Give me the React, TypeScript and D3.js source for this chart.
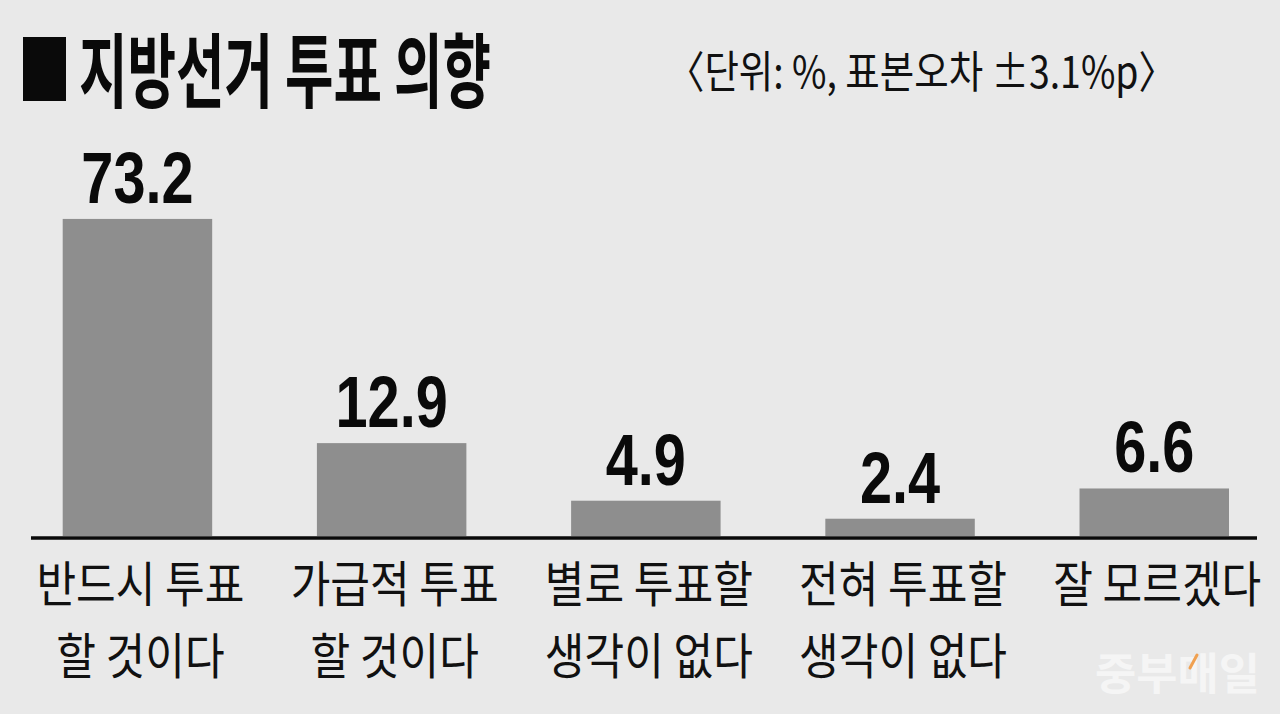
import React from "react";
import * as d3 from "d3";

const categories: string[][] = [
  ["반드시 투표", "할 것이다"],
  ["가급적 투표", "할 것이다"],
  ["별로 투표할", "생각이 없다"],
  ["전혀 투표할", "생각이 없다"],
  ["잘 모르겠다"],
];
const values: number[] = [73.2, 12.9, 4.9, 2.4, 6.6];
const valueLabels: string[] = ["73.2", "12.9", "4.9", "2.4", "6.6"];
const titleText = "지방선거 투표 의향";
const subtitleText = "〈단위: %, 표본오차 ±3.1%p〉";
const watermarkText = "중부매일";

const W = 1280;
const H = 714;
const KR = "'Noto Sans CJK KR', 'Noto Sans', sans-serif";
const NUM = "'Liberation Sans', Arial, sans-serif";

export default function App() {
  const ids = categories.map((_, i) => String(i));
  const x = d3.scaleBand<string>().domain(ids).range([62.7, 1229]).paddingInner(0.412).paddingOuter(0);
  // graphic is not drawn to scale: a two-segment (broken) linear scale
  const y = d3.scaleLinear().domain([0, 15, 80]).range([536, 428, 194.5]);
  const bw = x.bandwidth();

  return (
    <svg width={W} height={H} viewBox={`0 0 ${W} ${H}`} style={{ position: "fixed", left: 0, top: 0, display: "block" }}>
      <rect x={0} y={0} width={W} height={H} fill="#e9e9e9" />
      {/* title */}
      <rect x={23} y={37} width={43} height={64} fill="#0a0a0a" />
      <text x={79} y={101} fontFamily={KR} fontWeight={700} fontSize={81} fill="#0a0a0a" textLength={412} lengthAdjust="spacingAndGlyphs">
        {titleText}
      </text>
      <text x={667} y={88} fontFamily={KR} fontWeight={400} fontSize={44} fill="#111" textLength={509} lengthAdjust="spacingAndGlyphs">
        {subtitleText}
      </text>

      {/* bars */}
      {values.map((v, i) => (
        <rect key={"b" + i} x={x(ids[i])!} y={y(v)} width={bw} height={y(0) - y(v)} fill="#8e8e8e" />
      ))}
      {values.map((v, i) => (
        <text key={"v" + i} transform={`translate(${x(ids[i])! + bw / 2},${y(v) - 16}) scale(0.79,1)`} textAnchor="middle" fontFamily={NUM} fontWeight={700} fontSize={73} fill="#0a0a0a">
          {valueLabels[i]}
        </text>
      ))}
      <line x1={31} x2={1257} y1={538} y2={538} stroke="#0a0a0a" strokeWidth={3.5} />

      {/* category labels */}
      {categories.map((lines, i) => (
        <g key={"c" + i} transform={`translate(${x(ids[i])! + bw / 2 + 3},0)`}>
          {lines.map((ln, j) => (
            <text key={j} transform={`translate(0,${602 + j * 72}) scale(0.88,1)`} textAnchor="middle" fontFamily={KR} fontWeight={400} fontSize={49} fill="#111">
              {ln}
            </text>
          ))}
        </g>
      ))}

      {/* watermark */}
      <text x={1095} y={690} fontFamily={KR} fontWeight={700} fontSize={44} fill="#f5f5f5" textLength={165} lengthAdjust="spacingAndGlyphs">
        {watermarkText}
      </text>
      <line x1={1190} y1={668} x2={1197} y2={655} stroke="#f0a050" strokeWidth={3} strokeLinecap="round" />
    </svg>
  );
}
